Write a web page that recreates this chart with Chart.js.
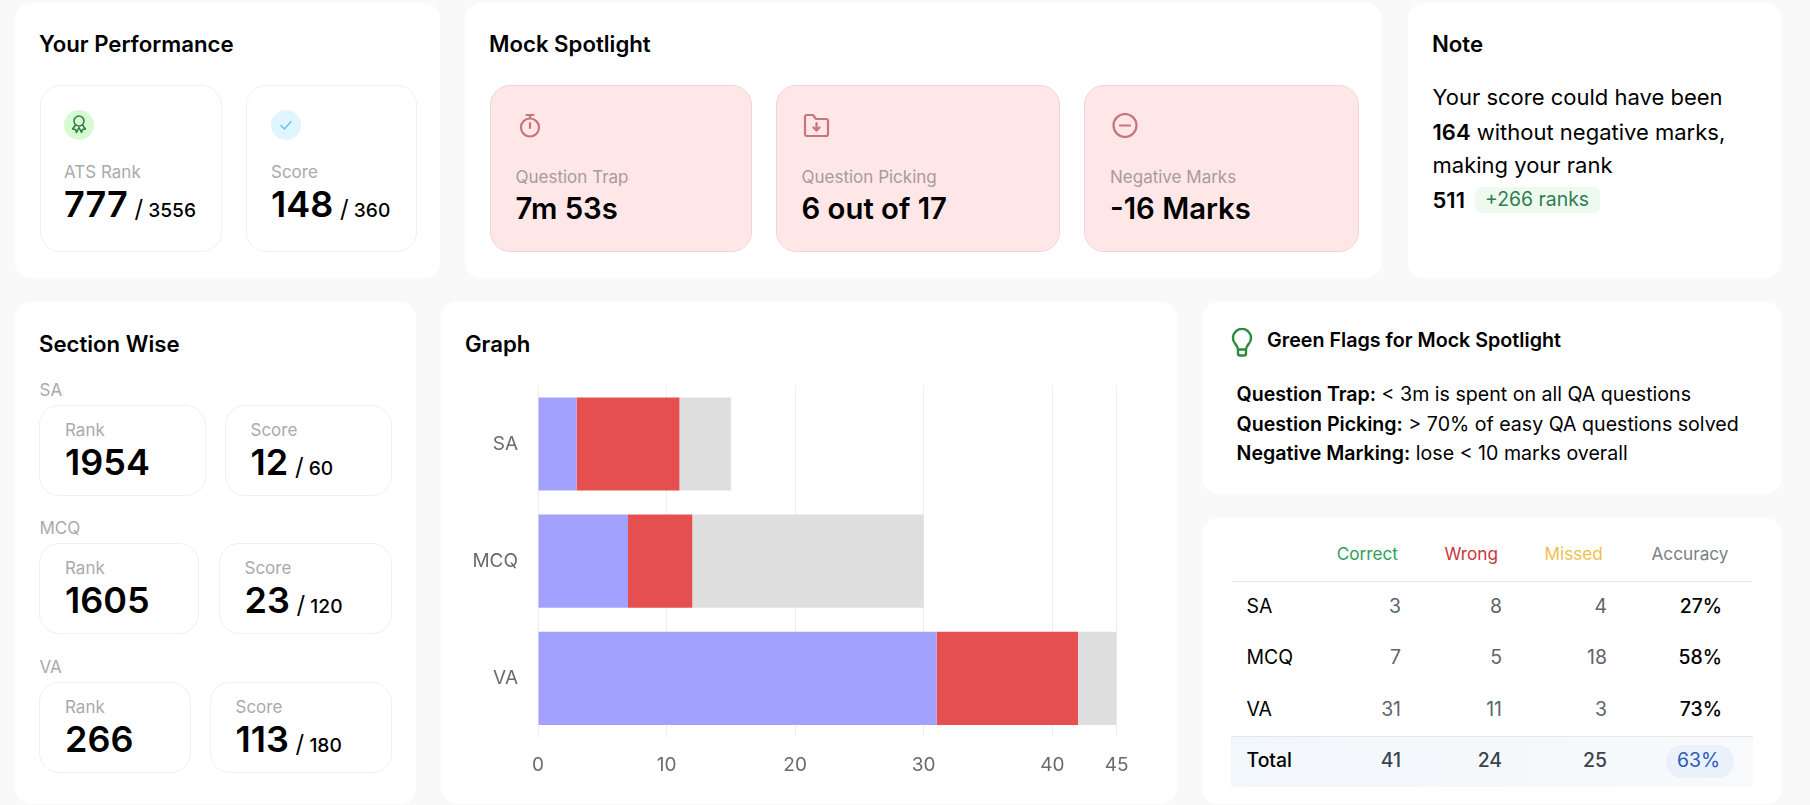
<!DOCTYPE html>
<html><head><meta charset="utf-8">
<script src="https://cdn.jsdelivr.net/npm/chart.js@4"></script>
<style>
html,body{margin:0;padding:0;width:1810px;height:805px;overflow:hidden;background:#f9f9f9;font-family:Inter,"Noto Sans",sans-serif;color:#000}
.box{position:absolute;box-sizing:border-box}
.panel{background:#fff;border-radius:16px}
.card{background:#fff;border:1px solid #f0f0f0;border-radius:20px}
.pink{background:#ffe7e7;border:1px solid #f4d4d6;border-radius:20px}
.t{position:absolute;white-space:nowrap;transform:translateY(-50%);line-height:1.2}
.title{font-size:22.2px;font-weight:600}
.lab{font-size:17px;color:#aaa}
.val{font-size:36px;font-weight:600}
.val small{font-size:19.2px;font-weight:500}
.val i{font-style:normal;font-size:24px;font-weight:400}
.big{font-size:29.3px;font-weight:600}
.note{font-size:22px}
.note b{font-weight:600}
.flag{font-size:19.6px}
.flag b{font-weight:600}
svg{position:absolute;fill:none;stroke-linecap:round;stroke-linejoin:round}
canvas{position:absolute}
</style></head><body>
<div id="root"></div>
<canvas id="graph" width="736" height="447" style="left:441px;top:354px;width:736px;height:447px"></canvas>
<script>
// ---- chart data ----
const categories = ["SA","MCQ","VA"];
const correct = [3,7,31];
const wrong = [8,5,11];
const missed = [4,18,3];
const accuracy = ["27%","58%","73%"];
const totals = ["41","24","25","63%"];
const tableHead = ["Correct","Wrong","Missed","Accuracy"];
const axisMax = 45;
const sectionRank = ["1954","1605","266"];
const sectionScore = ["12","23","113"];
const sectionOutOf = ["60","120","180"];

const root = document.getElementById('root');
function B(x,y,w,h,cls,style){const d=document.createElement('div');d.className='box '+(cls||'');
  d.style.cssText=`left:${x}px;top:${y}px;width:${w}px;height:${h}px;`+(style||'');root.appendChild(d);return d;}
function T(x,cy,html,cls,style){const d=document.createElement('div');d.className='t '+(cls||'');
  d.style.cssText=`left:${x}px;top:${cy}px;`+(style||'');d.innerHTML=html;root.appendChild(d);return d;}
function R(right,cy,html,cls,style){const d=T(0,cy,html,cls,style);d.style.left='auto';d.style.right=(1810-right)+'px';return d;}
function I(x,y,w,h,vb,stroke,sw,inner){root.insertAdjacentHTML('beforeend',
  `<svg style="left:${x}px;top:${y}px" width="${w}" height="${h}" viewBox="${vb}" stroke="${stroke}" stroke-width="${sw}">${inner}</svg>`);}

// panels
B(15,2.5,425,275,'panel');B(465,2.5,917,275,'panel');B(1408,2.5,373,275,'panel');
B(15,302,401,502,'panel');B(441,302,736,502,'panel');B(1202,302,580,192,'panel');B(1202,518,580,286,'panel');

// Your Performance
T(39,43.5,'Your Performance','title');
B(39.5,85,182.5,167,'card');B(245.5,85,171,167,'card');
B(64,110,30,30,'',"background:#d6fbd3;border-radius:50%");
I(70,114,18,22,'0 0 18 22','#2f7a3c',1.5,'<circle cx="9" cy="7" r="5"/><path d="M5.5 11 2.5 15l3 .5 1 3 2.5-5 2.5 5 1-3 3-.5-3-4"/>');
B(271,110,30,30,'',"background:#e1f5fe;border-radius:50%");
I(279,118,14,14,'0 0 14 14','#6ec6e6',1.6,'<path d="M2 7.5 5.5 11 12 3.5"/>');
T(64,172,'ATS Rank','lab');
T(64,205,'777<i> /</i><small> 3556</small>','val');
T(271,172,'Score','lab');
T(271,205,'148<i> /</i><small> 360</small>','val');

// Mock Spotlight
T(489,43.5,'Mock Spotlight','title');
B(489.5,85,262,167,'pink');B(776,85,284,167,'pink');B(1083.5,85,275,167,'pink');
I(518,113,24,25,'0 0 24 25','#c9737b',2.2,'<circle cx="12" cy="14.5" r="9"/><path d="M8.5 2h7M12 2v3M12 10v5"/>');
I(803,113,27,25,'0 0 27 25','#c9737b',2.2,'<path d="M2 4a2 2 0 0 1 2-2h6l3 4h10a2 2 0 0 1 2 2v13a2 2 0 0 1-2 2H4a2 2 0 0 1-2-2z"/><path d="M13.5 10v7M10.5 14.5l3 3 3-3"/>');
I(1112,113,26,25,'0 0 26 25','#c9737b',2.2,'<circle cx="13" cy="12.5" r="11.5"/><path d="M8 12.5h10"/>');
T(515.5,177,'Question Trap','lab',"color:#a99a9b");
T(515.5,209,'7m 53s','big');
T(801.5,177,'Question Picking','lab',"color:#a99a9b");
T(801.5,209,'6 out of 17','big');
T(1110,177,'Negative Marks','lab',"color:#a99a9b");
T(1110,209,'-16 Marks','big');

// Note
T(1432,43.5,'Note','title');
T(1432.5,97,'Your score could have been','note');
T(1432.5,131.5,'<b>164</b> without negative marks,','note');
T(1432.5,165,'making your rank','note');
T(1432.5,199.5,'<b>511</b>','note');
B(1475,187,125,26,'',"background:#eefaf0;border-radius:7px");
T(1485,200,'+266 ranks','',"font-size:19.4px;color:#2f7d4f");

// Section Wise
T(39,344,'Section Wise','title');
const rows=[{ly:390,top:405,rw:166.5,sx:225},{ly:528,top:542.5,rw:159.5,sx:219},{ly:667,top:681.5,rw:151.5,sx:210}];
rows.forEach((r,i)=>{
  T(39.5,r.ly,categories[i],'lab');
  B(39,r.top,r.rw,91,'card');B(r.sx,r.top,391.5-r.sx,91,'card');
  T(65,r.top+25,'Rank','lab');
  T(65,r.top+58,sectionRank[i],'val');
  T(r.sx+25.5,r.top+25,'Score','lab');
  T(r.sx+25.5,r.top+58,`${sectionScore[i]}<i> /</i><small> ${sectionOutOf[i]}</small>`,'val');
});

// Graph title
T(465,344,'Graph','title');

// Green flags
I(1231,328,22,29,'0 0 22 29','#2a8a3e',2.4,'<path d="M7 21.5c0-2.5-1-3.5-3-6a9 9 0 1 1 14 0c-2 2.5-3 3.5-3 6z"/><path d="M7 21.5v4a2 2 0 0 0 2 2h4a2 2 0 0 0 2-2v-4"/>');
T(1267,341,'Green Flags for Mock Spotlight','',"font-size:19.7px;font-weight:600");
T(1236.5,395,'<b>Question Trap:</b> &lt; 3m is spent on all QA questions','flag');
T(1236.5,424.5,'<b>Question Picking:</b> &gt; 70% of easy QA questions solved','flag');
T(1236.5,453.5,'<b>Negative Marking:</b> lose &lt; 10 marks overall','flag');

// Table
const colHeadColor=['#2f9e5b','#c8373f','#efc04a','#7b8085'];
const headX=[1336.7,1444.5,1544.5,1651.5];
tableHead.forEach((h,i)=>T(headX[i],554,h,'',`font-size:17.2px;color:${colHeadColor[i]}`));
B(1231,580.5,522,1,'',"background:#e7e7e7");
B(1231,736,522,51,'',"background:linear-gradient(90deg,#f2f7fb,#f8fafc);border-top:1px solid #e7e7e7");
const colRight=[1401,1502,1607,1722];
const rowY=[607,658,710];
categories.forEach((c,i)=>{
  T(1246.5,rowY[i],c,'',"font-size:19.4px");
  [correct,wrong,missed].forEach((arr,j)=>R(colRight[j],rowY[i],String(arr[i]),'',"font-size:19.4px;color:#5c6570"));
  R(colRight[3],rowY[i],accuracy[i],'',"font-size:19.4px;font-weight:450");
});
T(1246.5,761,'Total','',"font-size:19.4px;font-weight:450");
B(1666,745,68,33,'',"background:#eaf1fb;border-radius:17px");
totals.slice(0,3).forEach((v,j)=>R(colRight[j],761,v,'',"font-size:19.4px;font-weight:450;color:#3a4350"));
R(1720,761,totals[3],'',"font-size:19.4px;font-weight:400;color:#2b5cb8");

// Chart
new Chart(document.getElementById('graph'),{
  type:'bar',
  data:{labels:categories,datasets:[
    {label:'Correct',data:correct,backgroundColor:'#a3a1fe'},
    {label:'Wrong',data:wrong,backgroundColor:'#e54f4f'},
    {label:'Missed',data:missed,backgroundColor:'#dfdfdf'}
  ]},
  options:{
    indexAxis:'y',responsive:false,animation:false,devicePixelRatio:1,
    layout:{padding:{top:2,right:60.4,left:0,bottom:0}},
    datasets:{bar:{barPercentage:1,categoryPercentage:0.795}},
    plugins:{legend:{display:false},title:{display:false},tooltip:{enabled:false}},
    scales:{
      x:{stacked:true,min:0,max:axisMax,
        ticks:{stepSize:10,padding:17,maxRotation:0,color:'#6b6b6b',font:{family:'Inter',size:19}},
        grid:{color:'#eeeeee',drawTicks:false},border:{display:false},
        afterFit(s){s.height=64;}},
      y:{stacked:true,
        ticks:{padding:20,color:'#6b6b6b',font:{family:'Inter',size:19}},
        grid:{display:false,drawTicks:false},border:{display:false},
        afterFit(s){s.width=97;}}
    }
  }
});
</script>
</body></html>
